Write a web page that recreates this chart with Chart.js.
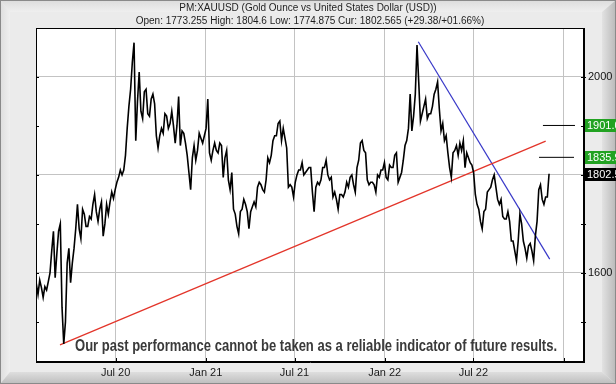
<!DOCTYPE html>
<html><head><meta charset="utf-8">
<script src="https://cdn.jsdelivr.net/npm/chart.js@4.4.0/dist/chart.umd.min.js"></script>
<style>html,body{margin:0;padding:0;background:#ececec;overflow:hidden}#wrap{width:616px;height:384px;position:relative}canvas{display:block}</style>
</head><body><div id="wrap"><canvas id="c" width="616" height="384"></canvas></div>
<script>
// ---------- text ----------
const titleLine1 = 'PM:XAUUSD (Gold Ounce vs United States Dollar (USD))';
const titleLine2 = 'Open: 1773.255 High: 1804.6 Low: 1774.875 Cur: 1802.565 (+29.38/+01.66%)';
const disclaimer = 'Our past performance cannot be taken as a reliable indicator of future results.';

// ---------- data (x = days since 1 Jan 2020, two readings per week) ----------
const firstDay = 20;
const stepDays = 3.5;
const prices2020 = [
 1578,1556, 1585,1570, 1550,1572, 1565,1582, 1600,1645, 1685,1590, 1640,1685, 1700,1530,
 1455,1500, 1620,1650, 1580,1620, 1650,1690, 1740,1690, 1670,1730, 1720,1695, 1695,1715,
 1710,1740, 1760,1725, 1705,1730, 1745,1675, 1700,1740, 1720,1745, 1765,1752, 1770,1785,
 1795,1810, 1800,1810, 1840,1895, 1940,1975, 2030,2070, 1870,1950, 2010,1930, 1915,1970,
 1975,1925, 1920,1955, 1965,1945, 1880,1855, 1880,1895, 1885,1925, 1920,1895, 1905,1930,
 1900,1865, 1900,1960, 1860,1890, 1885,1865, 1840,1805, 1770,1835, 1860,1830, 1850,1885,
 1875,1865, 1880,1895
];
const prices2021 = [
 1955,1845, 1830,1850, 1865,1850, 1845,1865, 1860,1795, 1835,1850, 1790,1770, 1805,1730,
 1720,1695, 1680,1725, 1730,1750, 1740,1725, 1690,1725, 1735,1745, 1735,1775, 1785,1780,
 1770,1765, 1790,1835, 1825,1840, 1870,1880, 1880,1905, 1910,1870, 1895,1875, 1855,1775,
 1780,1775, 1755,1785, 1800,1810, 1810,1825, 1800,1805, 1810,1815, 1815,1765, 1725,1775,
 1785,1780, 1790,1815, 1815,1830, 1800,1790, 1795,1755, 1765,1750, 1730,1760, 1760,1755,
 1765,1785, 1775,1795, 1800,1780, 1765,1815, 1830,1865, 1870,1850, 1845,1790, 1780,1785,
 1785,1780, 1765,1800, 1795,1810, 1810,1825
];
const prices2022 = [
 1795,1790, 1820,1815, 1815,1840, 1845,1785, 1795,1805, 1830,1860, 1870,1895, 1965,1890,
 1920,1965, 2065,1990, 1910,1925, 1940,1955, 1915,1925, 1925,1940, 1965,1975, 1990,1935,
 1890,1905, 1870,1880, 1845,1815, 1795,1845, 1850,1860, 1840,1865, 1850,1870, 1815,1845,
 1835,1825, 1820,1805, 1760,1740, 1730,1705, 1690,1725, 1730,1765, 1770,1775, 1790,1800,
 1775,1750, 1740,1750, 1715,1710, 1710,1725, 1705,1665, 1665,1645, 1625,1665, 1720,1700,
 1665,1650, 1630,1655, 1660,1645, 1625,1675, 1705,1770, 1780,1750, 1740,1755, 1755,1802.5
];
const xTickDays   = [182, 366, 547, 731, 912, 1096];
const xTickLabels = ['Jul 20', 'Jan 21', 'Jul 21', 'Jan 22', 'Jul 22', ''];
const yTickValues = [1500, 1600, 1700, 1800, 1900, 2000];
const yLabelValues = [1600, 1800, 2000];
const redTrendDays = [68.4, 1059.6];
const redTrendValues = [1453, 1869];
const blueTrendDays = [799.6, 1067.8];
const blueTrendValues = [2072, 1628];
const targetValues = [1901.0, 1835.9];
const targetLabels = ['1901.0', '1835.9'];
const targetStartDays = [1054, 1046];
const targetEndDays = [1119.4, 1117.4];
const currentValue = 1802.565;
const currentLabel = '1802.5';

// ---------- build ----------
const allPrices = prices2020.concat(prices2021, prices2022);
const pricePoints = allPrices.map((v, i) => ({x: firstDay + stepDays * i, y: v}));
const toPts = (xs, ys) => xs.map((x, i) => ({x, y: ys[i]}));

Chart.defaults.font.family = '"Liberation Sans", Arial, sans-serif';
Chart.defaults.font.size = 11;
Chart.defaults.color = '#1a1a1a';

const framePlugin = {
  id: 'frame',
  beforeDraw(chart) {
    const {ctx, chartArea: a} = chart;
    const W = chart.width, H = chart.height;
    ctx.save();
    ctx.fillStyle = '#ebebeb';
    ctx.fillRect(0, 0, W, H);
    let g = ctx.createLinearGradient(0, 0, 0, 12);
    g.addColorStop(0, '#dcdcdc'); g.addColorStop(1, '#efefef');
    ctx.fillStyle = g;
    ctx.beginPath(); ctx.moveTo(0, 0); ctx.lineTo(W, 0); ctx.lineTo(W - 14, 12); ctx.lineTo(10, 12); ctx.closePath(); ctx.fill();
    g = ctx.createLinearGradient(0, 0, 10, 0);
    g.addColorStop(0, '#dedede'); g.addColorStop(1, '#efefef');
    ctx.fillStyle = g;
    ctx.beginPath(); ctx.moveTo(0, 0); ctx.lineTo(10, 12); ctx.lineTo(10, H - 12); ctx.lineTo(0, H); ctx.closePath(); ctx.fill();
    g = ctx.createLinearGradient(W - 14, 0, W, 0);
    g.addColorStop(0, '#e2e2e2'); g.addColorStop(1, '#b9b9b9');
    ctx.fillStyle = g;
    ctx.beginPath(); ctx.moveTo(W, 0); ctx.lineTo(W - 14, 12); ctx.lineTo(W - 14, H - 12); ctx.lineTo(W, H); ctx.closePath(); ctx.fill();
    g = ctx.createLinearGradient(0, H - 12, 0, H);
    g.addColorStop(0, '#dedede'); g.addColorStop(1, '#bdbdbd');
    ctx.fillStyle = g;
    ctx.beginPath(); ctx.moveTo(0, H); ctx.lineTo(10, H - 12); ctx.lineTo(W - 14, H - 12); ctx.lineTo(W, H); ctx.closePath(); ctx.fill();
    ctx.strokeStyle = '#8a8a8a'; ctx.lineWidth = 1;
    ctx.strokeRect(0.5, 0.5, W - 1, H - 1);
    ctx.fillStyle = '#ffffff';
    ctx.fillRect(a.left, a.top, a.right - a.left, a.bottom - a.top);
    ctx.restore();
  },
  beforeDatasetsDraw(chart) {
    const {ctx} = chart;
    ctx.save();
    ctx.font = 'bold 16px "Liberation Sans Narrow", "Liberation Sans", Arial, sans-serif';
    ctx.fillStyle = '#3a3a3a';
    ctx.textBaseline = 'middle';
    ctx.textAlign = 'left';
    ctx.fillText(disclaimer, 75, 347, 482);
    ctx.restore();
  },
  afterDraw(chart) {
    const {ctx, chartArea: a} = chart;
    const ys = chart.scales.y;
    ctx.save();
    ctx.strokeStyle = '#000'; ctx.lineWidth = 1;
    ctx.strokeRect(Math.round(a.left) + 0.5, Math.round(a.top) + 0.5, Math.round(a.right - a.left) - 1, Math.round(a.bottom - a.top) - 1);
    ctx.beginPath();
    yTickValues.forEach(v => {
      const y = Math.round(ys.getPixelForValue(v)) + 0.5;
      ctx.moveTo(a.left, y); ctx.lineTo(a.left + 3, y);
      ctx.moveTo(a.right - 3, y); ctx.lineTo(a.right + 2, y);
    });
    const xs = chart.scales.x;
    xTickDays.forEach(d => {
      const x = Math.round(xs.getPixelForValue(d)) + 0.5;
      ctx.moveTo(x, a.bottom - 4); ctx.lineTo(x, a.bottom);
    });
    ctx.stroke();
    // price boxes
    ctx.font = '11px "Liberation Sans", Arial, sans-serif';
    ctx.textBaseline = 'middle';
    ctx.textAlign = 'left';
    const box = (v, label, bg) => {
      const y = ys.getPixelForValue(v);
      ctx.fillStyle = bg;
      ctx.fillRect(a.right + 1, Math.round(y) - 6, chart.width - a.right, 13);
      ctx.fillStyle = '#ffffff';
      ctx.fillText(label, a.right + 3, Math.round(y) + 0.5);
    };
    targetValues.forEach((v, i) => box(v, targetLabels[i], '#22a222'));
    box(currentValue, currentLabel, '#000000');
    // titles
    ctx.fillStyle = '#1e1e1e';
    ctx.textAlign = 'center';
    ctx.font = '10px "Liberation Sans", Arial, sans-serif';
    ctx.fillText(titleLine1, 308, 8, 270);
    ctx.fillText(titleLine2, 310, 21, 372);
    ctx.restore();
  }
};

new Chart(document.getElementById('c'), {
  type: 'line',
  data: {
    datasets: [
      {data: pricePoints, borderColor: '#000', borderWidth: 1.6, pointRadius: 0, tension: 0},
      {data: toPts(redTrendDays, redTrendValues), borderColor: '#e3352a', borderWidth: 1.3, pointRadius: 0},
      {data: toPts(blueTrendDays, blueTrendValues), borderColor: '#3838c8', borderWidth: 1.2, pointRadius: 0},
      {data: toPts([targetStartDays[0], targetEndDays[0]], [targetValues[0], targetValues[0]]), borderColor: '#000', borderWidth: 1, pointRadius: 0},
      {data: toPts([targetStartDays[1], targetEndDays[1]], [targetValues[1], targetValues[1]]), borderColor: '#000', borderWidth: 1, pointRadius: 0}
    ]
  },
  options: {
    responsive: false,
    animation: false,
    devicePixelRatio: 1,
    layout: {padding: {top: 28, left: 36, right: 0, bottom: 0}},
    plugins: {legend: {display: false}, tooltip: {enabled: false}},
    scales: {
      x: {
        type: 'linear', min: 19.4, max: 1137.8,
        afterBuildTicks: s => { s.ticks = xTickDays.map(v => ({value: v})); },
        afterFit: s => { s.height = 22; s.paddingLeft = 0; s.paddingRight = 0; },
        ticks: {autoSkip: false, maxRotation: 0, padding: 4, color: '#1a1a1a',
          font: {size: 11}, callback: (v, i) => xTickLabels[i]},
        grid: {color: '#c3c3c3', drawTicks: false},
        border: {display: true, color: '#000'}
      },
      y: {
        position: 'right', min: 1418, max: 2100,
        afterBuildTicks: s => { s.ticks = yTickValues.map(v => ({value: v})); },
        afterFit: s => { s.width = 32; },
        ticks: {autoSkip: false, padding: 4, color: '#111', font: {size: 11},
          callback: v => yLabelValues.includes(v) ? String(v) : ''},
        grid: {drawTicks: false, color: c => (c.tick && c.tick.value % 200 === 0) ? '#c3c3c3' : 'rgba(0,0,0,0)'},
        border: {display: true, color: '#000'}
      }
    }
  },
  plugins: [framePlugin]
});
</script>
</body></html>
